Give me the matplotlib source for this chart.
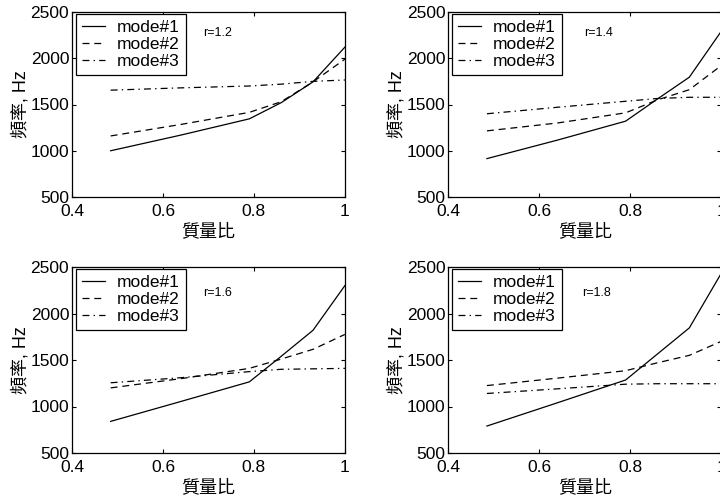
import matplotlib
matplotlib.use("Agg")
import matplotlib.pyplot as plt

# mass ratio sample points (x axis)
mass_ratio = [0.485, 0.64, 0.79, 0.86, 0.93, 1.0]

# stiffness ratio r for each panel
r_values = [1.2, 1.4, 1.6, 1.8]

# natural frequencies (Hz)
r12_mode1 = [1000, 1170, 1345, 1520, 1745, 2120]
r12_mode2 = [1160, 1285, 1415, 1530, 1745, 1990]
r12_mode3 = [1655, 1680, 1700, 1720, 1750, 1765]

r14_mode1 = [915, 1115, 1320, 1560, 1795, 2290]
r14_mode2 = [1215, 1300, 1410, 1550, 1660, 1920]
r14_mode3 = [1400, 1470, 1535, 1565, 1578, 1578]

r16_mode1 = [840, 1055, 1265, 1540, 1820, 2300]
r16_mode2 = [1200, 1300, 1410, 1510, 1615, 1775]
r16_mode3 = [1255, 1310, 1375, 1400, 1405, 1410]

r18_mode1 = [790, 1040, 1285, 1565, 1845, 2430]
r18_mode2 = [1225, 1305, 1385, 1470, 1550, 1700]
r18_mode3 = [1140, 1190, 1240, 1245, 1245, 1245]

mode_labels = ['mode#1', 'mode#2', 'mode#3']
x_ticks = [0.4, 0.6, 0.8, 1.0]
x_tick_labels = ['0.4', '0.6', '0.8', '1']
y_ticks = [500, 1000, 1500, 2000, 2500]

panels = [
    (r12_mode1, r12_mode2, r12_mode3),
    (r14_mode1, r14_mode2, r14_mode3),
    (r16_mode1, r16_mode2, r16_mode3),
    (r18_mode1, r18_mode2, r18_mode3),
]

plt.rcParams['font.family'] = ['Liberation Sans', 'Noto Sans CJK TC']
plt.rcParams['lines.scale_dashes'] = False

fig = plt.figure(figsize=(7.2, 5.0), dpi=100)

# axes boxes in figure fractions (right column runs off the canvas like the original)
axes_pos = [
    [0.100, 0.606, 0.379, 0.370],
    [0.6226, 0.606, 0.379, 0.370],
    [0.100, 0.094, 0.379, 0.372],
    [0.6226, 0.094, 0.379, 0.372],
]
r_text_pos = [(0.48, 0.886), (0.497, 0.886), (0.479, 0.862), (0.492, 0.862)]

line_styles = [
    dict(linestyle='-'),
    dict(linestyle=(0, (5, 3.5))),
    dict(linestyle=(0, (5, 3, 1, 3))),
]

for idx, (pos, series) in enumerate(zip(axes_pos, panels)):
    ax = fig.add_axes(pos)
    for vals, style, lab in zip(series, line_styles, mode_labels):
        ax.plot(mass_ratio, vals, color='black', linewidth=0.9, label=lab, **style)

    ax.set_xlim(0.4, 1.0)
    ax.set_ylim(500, 2500)
    ax.set_xticks(x_ticks)
    ax.set_xticklabels(x_tick_labels)
    ax.set_yticks(y_ticks)
    ax.tick_params(direction='in', top=True, right=True, length=3, width=0.8,
                   labelsize=12.5)
    ax.tick_params(axis='x', pad=5)
    ax.tick_params(axis='y', pad=2)
    for sp in ax.spines.values():
        sp.set_linewidth(0.9)

    ax.set_xlabel('質量比', fontsize=13, labelpad=3)
    ax.set_ylabel('頻率, Hz', fontsize=13, labelpad=1)

    leg = ax.legend(loc='upper left', bbox_to_anchor=(0.015, 0.99),
                    borderaxespad=0, fontsize=12.5, handlelength=1.3,
                    handletextpad=0.7, labelspacing=0.1, borderpad=0.35,
                    fancybox=False, framealpha=1, edgecolor='black')
    leg.get_frame().set_linewidth(0.9)

    tx, ty = r_text_pos[idx]
    ax.text(tx, ty, f'r={r_values[idx]}', transform=ax.transAxes,
            fontsize=9, va='center', ha='left')

fig.savefig('out.png', dpi=100)
